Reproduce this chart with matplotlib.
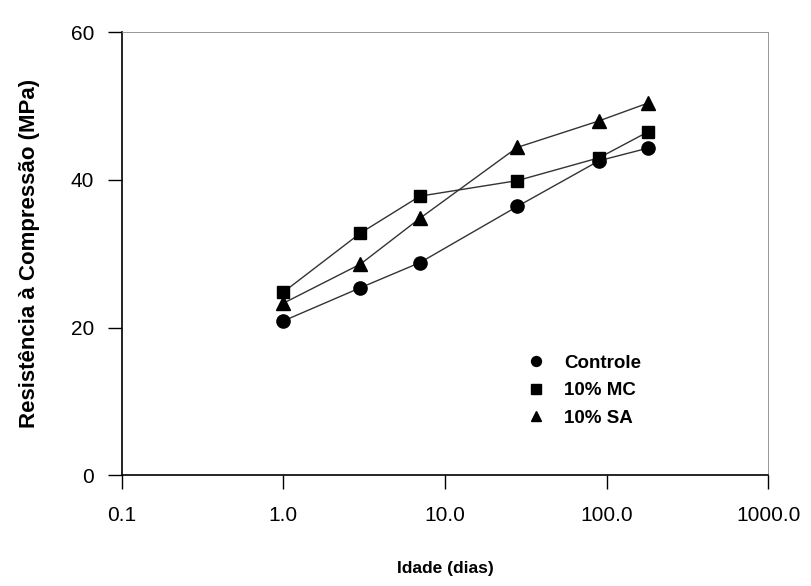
import matplotlib.pyplot as plt
from matplotlib.lines import Line2D

plt.rcParams['font.family'] = ['Liberation Sans', 'DejaVu Sans']

dias = [1, 3, 7, 28, 90, 180]
controle = [20.9, 25.4, 28.8, 36.4, 42.6, 44.3]
mc = [24.8, 32.8, 37.8, 39.9, 43.0, 46.5]
sa = [23.3, 28.6, 34.8, 44.4, 48.0, 50.4]

series = [
    ('Controle', controle, 'o', 9.5),
    ('10% MC', mc, 's', 9),
    ('10% SA', sa, '^', 9.5),
]

fig = plt.figure(figsize=(8.12, 5.86), dpi=100)
ax = fig.add_axes([0.150, 0.189, 0.796, 0.756])

handles = []
for name, vals, mk, ms in series:
    ax.plot(dias, vals, color='#333333', lw=1.0, marker=mk, ms=ms,
            mfc='black', mec='black')
    handles.append(Line2D([], [], ls='none', marker=mk, ms=ms * 0.75,
                          mfc='black', mec='black', label=name))

ax.set_xscale('log')
ax.set_xlim(0.1, 1000)
ax.set_ylim(0, 60)
ax.set_xticks([0.1, 1, 10, 100, 1000])
ax.set_xticklabels(['0.1', '1.0', '10.0', '100.0', '1000.0'])
ax.minorticks_off()
ax.set_yticks([0, 20, 40, 60])
ax.tick_params(axis='both', labelsize=15, length=10, width=1, direction='out')
ax.tick_params(axis='x', pad=12)
ax.tick_params(axis='y', pad=10)

for s in ['top', 'right']:
    ax.spines[s].set_linewidth(0.6)
    ax.spines[s].set_color('#888888')
for s in ['left', 'bottom']:
    ax.spines[s].set_linewidth(1.2)

ax.set_xlabel('Idade (dias)', fontsize=12.5, fontweight='bold', labelpad=26)
ax.set_ylabel('Resistência à Compressão (MPa)', fontsize=16, fontweight='bold', labelpad=22)

ax.legend(handles=handles, loc='upper left', bbox_to_anchor=(0.6, 0.31),
          frameon=False, handlelength=1.0, handletextpad=1.0,
          labelspacing=0.55, prop={'weight': 'bold', 'size': 13.5})

fig.savefig('out.png', dpi=100)
